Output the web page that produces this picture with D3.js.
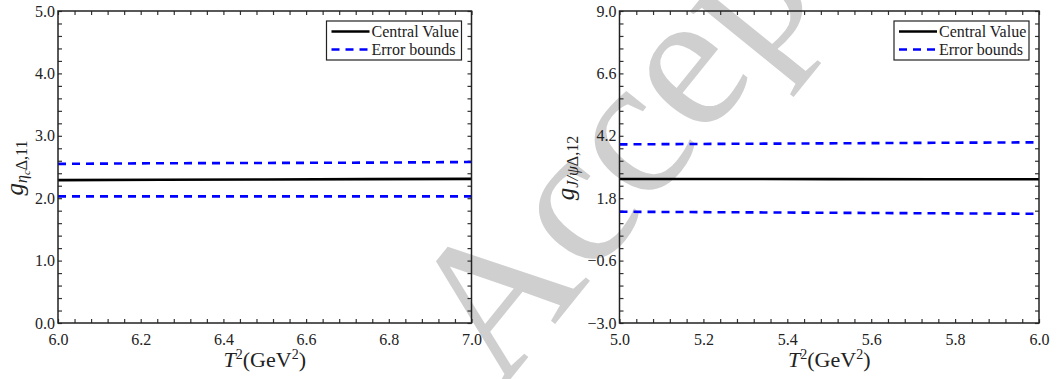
<!DOCTYPE html>
<html>
<head>
<meta charset="utf-8">
<script src="https://cdn.jsdelivr.net/npm/d3@7"></script>
<style>
  body { margin: 0; background: #fff; }
  svg { display: block; }
  svg text { font-family: "Liberation Serif", "DejaVu Serif", serif !important; fill: #222; }
</style>
</head>
<body>
<div id="chart"></div>
<script>
const width = 1064;
const height = 379;

// left panel: g_{eta_c Delta,11}
const leftT2 = [6.0, 6.25, 6.5, 6.75, 7.0];
const leftCentral = [2.29, 2.295, 2.30, 2.305, 2.31];
const leftUpper = [2.55, 2.56, 2.565, 2.57, 2.58];
const leftLower = [2.03, 2.03, 2.03, 2.03, 2.03];
const leftXTicks = [6.0, 6.2, 6.4, 6.6, 6.8, 7.0];
const leftYTicks = [0.0, 1.0, 2.0, 3.0, 4.0, 5.0];

// right panel: g_{J/psi Delta,12}
const rightT2 = [5.0, 5.25, 5.5, 5.75, 6.0];
const rightCentral = [2.54, 2.54, 2.535, 2.53, 2.53];
const rightUpper = [3.87, 3.89, 3.91, 3.93, 3.95];
const rightLower = [1.28, 1.26, 1.24, 1.22, 1.20];
const rightXTicks = [5.0, 5.2, 5.4, 5.6, 5.8, 6.0];
const rightYTicks = [-3.0, -0.6, 1.8, 4.2, 6.6, 9.0];

const legendLabels = ["Central Value", "Error bounds"];

const svg = d3.select("#chart").append("svg")
  .attr("width", width)
  .attr("height", height);

// faint "Accepted" stamp behind the plots
svg.append("text")
  .attr("transform", "translate(500,392) rotate(-51)")
  .style("font-size", "200px")
  .style("fill", "#cfcfcf")
  .text("Accepted");

function panel(opts) {
  const x = d3.scaleLinear().domain(opts.xDomain).range([opts.left, opts.right]);
  const y = d3.scaleLinear().domain(opts.yDomain).range([323, 11]);
  const g = svg.append("g");

  const xMinor = d3.range(0, 26).map(i => opts.xDomain[0] + i * 0.04);
  const yStep = (opts.yDomain[1] - opts.yDomain[0]) / 25;
  const yMinor = d3.range(0, 26).map(i => opts.yDomain[0] + i * yStep);

  // inward ticks on all four sides
  const tickLen = 4;
  g.append("g")
    .attr("transform", `translate(0,${y.range()[0]})`)
    .call(d3.axisTop(x).tickValues(xMinor).tickSize(tickLen).tickFormat(""))
    .call(a => a.select(".domain").remove());
  g.append("g")
    .attr("transform", `translate(0,${y.range()[1]})`)
    .call(d3.axisBottom(x).tickValues(xMinor).tickSize(tickLen).tickFormat(""))
    .call(a => a.select(".domain").remove());
  g.append("g")
    .attr("transform", `translate(${opts.left},0)`)
    .call(d3.axisRight(y).tickValues(yMinor).tickSize(tickLen).tickFormat(""))
    .call(a => a.select(".domain").remove());
  g.append("g")
    .attr("transform", `translate(${opts.right},0)`)
    .call(d3.axisLeft(y).tickValues(yMinor).tickSize(tickLen).tickFormat(""))
    .call(a => a.select(".domain").remove());
  g.selectAll(".tick line").attr("stroke", "#333").attr("stroke-width", 1.2);

  // tick labels
  g.append("g")
    .attr("transform", `translate(0,${y.range()[0]})`)
    .call(d3.axisBottom(x).tickValues(opts.xTicks).tickSize(0).tickPadding(11).tickFormat(d3.format(".1f")))
    .call(a => a.select(".domain").remove())
    .selectAll("text").style("font-size", "16px");
  g.append("g")
    .attr("transform", `translate(${opts.left},0)`)
    .call(d3.axisLeft(y).tickValues(opts.yTicks).tickSize(0).tickPadding(3).tickFormat(d3.format(".1f")))
    .call(a => a.select(".domain").remove())
    .selectAll("text").style("font-size", "16px");

  // curves
  const line = d3.line().x(d => x(d[0])).y(d => y(d[1]));
  const series = [
    { values: opts.upper, color: "#0000ff", dash: "8 6" },
    { values: opts.lower, color: "#0000ff", dash: "8 6" },
    { values: opts.central, color: "#000", dash: null }
  ];
  g.selectAll(".curve")
    .data(series)
    .join("path")
    .attr("class", "curve")
    .attr("fill", "none")
    .attr("stroke", d => d.color)
    .attr("stroke-width", 2.6)
    .attr("stroke-dasharray", d => d.dash)
    .attr("d", d => line(opts.t2.map((t, i) => [t, d.values[i]])));

  // frame
  g.append("rect")
    .attr("x", opts.left).attr("y", 11)
    .attr("width", opts.right - opts.left).attr("height", 312)
    .attr("fill", "none").attr("stroke", "#222").attr("stroke-width", 1.5);

  // legend
  const lg = g.append("g").attr("transform", `translate(${opts.right - 145},21)`);
  lg.append("rect")
    .attr("width", 135).attr("height", 39)
    .attr("fill", "#fff").attr("stroke", "#222").attr("stroke-width", 1.2);
  lg.append("line").attr("x1", 5).attr("x2", 43).attr("y1", 10.5).attr("y2", 10.5)
    .attr("stroke", "#000").attr("stroke-width", 2.6);
  lg.append("line").attr("x1", 5).attr("x2", 43).attr("y1", 28.5).attr("y2", 28.5)
    .attr("stroke", "#0000ff").attr("stroke-width", 2.6).attr("stroke-dasharray", "8 6");
  lg.selectAll(".lt")
    .data(legendLabels)
    .join("text")
    .attr("class", "lt")
    .attr("x", 45)
    .attr("y", (d, i) => 16 + i * 18)
    .style("font-size", "16px")
    .text(d => d);

  // x title
  const cx = (opts.left + opts.right) / 2;
  const xt = g.append("text")
    .attr("x", cx).attr("y", 367)
    .attr("text-anchor", "middle")
    .style("font-size", "22px");
  xt.append("tspan").style("font-style", "italic").text("T");
  xt.append("tspan").attr("dy", -8).style("font-size", "14px").text("2");
  xt.append("tspan").attr("dy", 8).text("(GeV");
  xt.append("tspan").attr("dy", -8).style("font-size", "14px").text("2");
  xt.append("tspan").attr("dy", 8).text(")");

  // y title
  const yt = g.append("text")
    .attr("transform", `translate(${opts.yTitleX},168) rotate(-90)`)
    .attr("text-anchor", "middle")
    .style("font-size", "25px");
  yt.append("tspan").style("font-style", "italic").text("g");
  opts.ySub(yt);
}

panel({
  left: 58, right: 471.5,
  xDomain: [6.0, 7.0], yDomain: [0, 5],
  xTicks: leftXTicks, yTicks: leftYTicks,
  t2: leftT2, central: leftCentral, upper: leftUpper, lower: leftLower,
  yTitleX: 23,
  ySub: t => {
    t.append("tspan").attr("dy", 4).style("font-size", "16px").style("font-style", "italic").text("η");
    t.append("tspan").attr("dy", 3).style("font-size", "11px").style("font-style", "italic").text("c");
    t.append("tspan").attr("dy", -3).style("font-size", "16px").text("Δ,11");
  }
});

panel({
  left: 619.5, right: 1039,
  xDomain: [5.0, 6.0], yDomain: [-3, 9],
  xTicks: rightXTicks, yTicks: rightYTicks,
  t2: rightT2, central: rightCentral, upper: rightUpper, lower: rightLower,
  yTitleX: 574,
  ySub: t => {
    t.append("tspan").attr("dy", 4).style("font-size", "16px").style("font-style", "italic").text("J/ψ");
    t.append("tspan").style("font-size", "16px").text("Δ,12");
  }
});
</script>
</body>
</html>
